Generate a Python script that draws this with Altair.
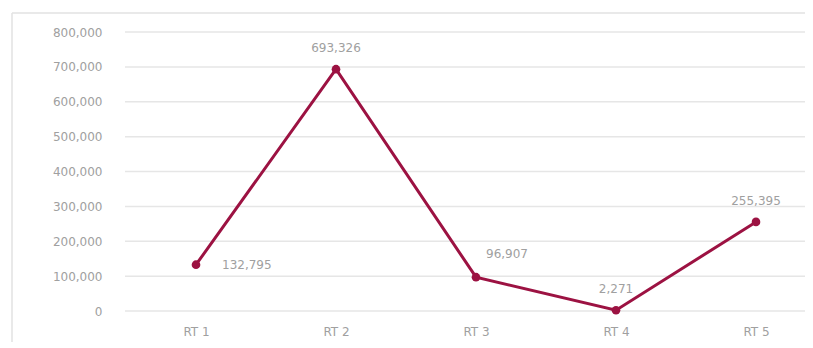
import altair as alt
import pandas as pd

categories = ["RT 1", "RT 2", "RT 3", "RT 4", "RT 5"]
values = [132795, 693326, 96907, 2271, 255395]
y_ticks = [0, 100000, 200000, 300000, 400000, 500000, 600000, 700000, 800000]

df = pd.DataFrame({"cat": categories, "val": values})
grid_df = pd.DataFrame({"tick": y_ticks})

LINE = "#9c1242"
GRAY = "#a0a0a0"
FONT = "DejaVu Sans"
W, H = 680, 279

x_enc = alt.X("cat:N", sort=categories,
              scale=alt.Scale(type="point", range=[71, 631], padding=0),
              axis=alt.Axis(title=None, labelAngle=0, domain=False, ticks=False,
                            labelPadding=15, labelColor=GRAY, labelFont=FONT,
                            labelFontSize=12, grid=False))
y_scale = alt.Scale(domain=[0, 800000], nice=False)
y_axis = alt.Axis(title=None, values=y_ticks, format=",d", domain=False,
                  ticks=False, labelPadding=23, labelColor=GRAY,
                  labelFont=FONT, labelFontSize=12, grid=False)
y_enc = alt.Y("val:Q", scale=y_scale, axis=y_axis)

base = alt.Chart(df)

grid = alt.Chart(grid_df).mark_rule(color="#e6e6e6", strokeWidth=1.5).encode(
    y=alt.Y("tick:Q", scale=y_scale, axis=y_axis),
    x=alt.value(0), x2=alt.value(W))

line = base.mark_line(color=LINE, strokeWidth=3).encode(x=x_enc, y=y_enc)
pts = base.mark_circle(color=LINE, size=75, opacity=1).encode(x=x_enc, y=y_enc)

txt_style = dict(color=GRAY, font=FONT, fontSize=12)
t1 = base.transform_filter(alt.datum.cat == "RT 1").mark_text(
    align="left", dx=26, dy=0, **txt_style).encode(
    x=x_enc, y=y_enc, text=alt.Text("val:Q", format=",d"))
t3 = base.transform_filter(alt.datum.cat == "RT 3").mark_text(
    align="center", dx=31, dy=-23, **txt_style).encode(
    x=x_enc, y=y_enc, text=alt.Text("val:Q", format=",d"))
tothers = base.transform_filter(
    (alt.datum.cat != "RT 1") & (alt.datum.cat != "RT 3")).mark_text(
    align="center", dy=-21, **txt_style).encode(
    x=x_enc, y=y_enc, text=alt.Text("val:Q", format=",d"))

frame_top = alt.Chart(pd.DataFrame({"a": [0]})).mark_rule(
    color="#e2e2e2", strokeWidth=1.5).encode(
    x=alt.value(-113), x2=alt.value(W), y=alt.value(-19))
frame_left = alt.Chart(pd.DataFrame({"a": [0]})).mark_rule(
    color="#e2e2e2", strokeWidth=1.5).encode(
    x=alt.value(-113), y=alt.value(-19), y2=alt.value(H + 60))

chart = alt.layer(frame_top, frame_left, grid, line, pts, t1, t3, tothers).properties(
    width=W, height=H,
    autosize=alt.AutoSizeParams(type="none"),
    padding={"left": 117, "top": 24, "right": 0, "bottom": 31},
).configure_view(stroke=None)

chart.save("out.html", embed_options={"renderer": "svg", "actions": False})
